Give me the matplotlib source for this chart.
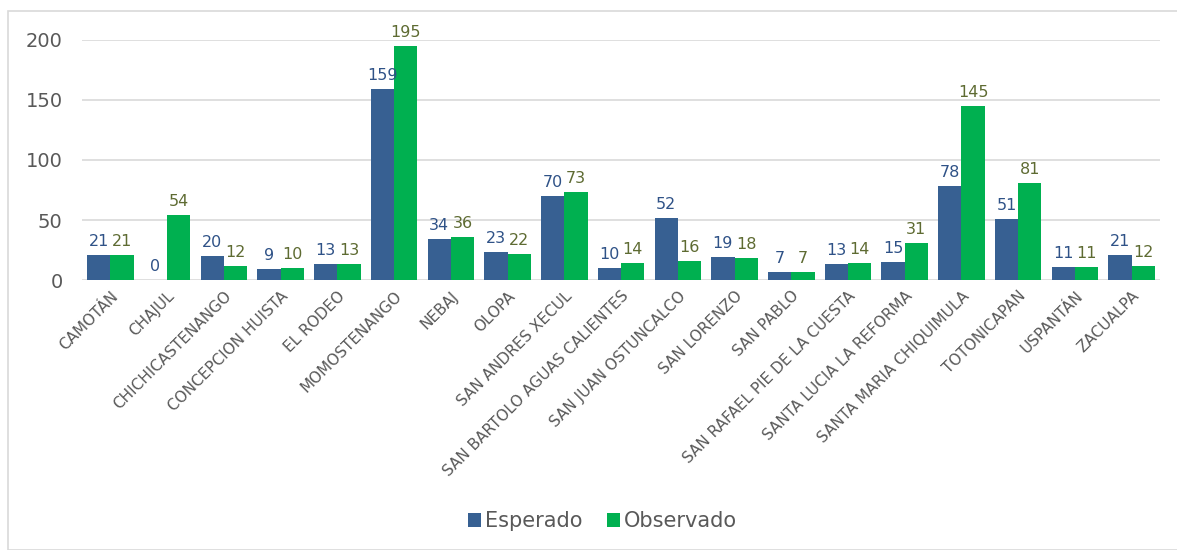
import matplotlib.pyplot as plt
import numpy as np
from matplotlib.patches import Rectangle

categorias = ['CAMOTÁN', 'CHAJUL', 'CHICHICASTENANGO', 'CONCEPCION HUISTA', 'EL RODEO',
              'MOMOSTENANGO', 'NEBAJ', 'OLOPA', 'SAN ANDRES XECUL', 'SAN BARTOLO AGUAS CALIENTES',
              'SAN JUAN OSTUNCALCO', 'SAN LORENZO', 'SAN PABLO', 'SAN RAFAEL PIE DE LA CUESTA',
              'SANTA LUCIA LA REFORMA', 'SANTA MARIA CHIQUIMULA', 'TOTONICAPAN', 'USPANTÁN', 'ZACUALPA']
esperado = [21, 0, 20, 9, 13, 159, 34, 23, 70, 10, 52, 19, 7, 13, 15, 78, 51, 11, 21]
observado = [21, 54, 12, 10, 13, 195, 36, 22, 73, 14, 16, 18, 7, 14, 31, 145, 81, 11, 12]

plt.rcParams['font.family'] = ['DejaVu Sans']

fig = plt.figure(figsize=(11.77, 5.5), dpi=100)
ax = fig.add_axes([0.0697, 0.4909, 0.9159, 0.4364])

x = np.arange(len(categorias))
w = 0.41
b1 = ax.bar(x - w/2, esperado, w, color='#376092', label='Esperado', zorder=3)
b2 = ax.bar(x + w/2, observado, w, color='#00B050', label='Observado', zorder=3)

for rect, v in zip(b1, esperado):
    ax.text(rect.get_x() + rect.get_width()/2, v + 5, str(v), ha='center', va='bottom',
            fontsize=11.5, color='#2F5287')
for rect, v in zip(b2, observado):
    ax.text(rect.get_x() + rect.get_width()/2, v + 5, str(v), ha='center', va='bottom',
            fontsize=11.5, color='#5E6B32')

ax.set_xlim(-0.5, len(categorias) - 0.5)
ax.set_ylim(0, 200)
ax.set_yticks([0, 50, 100, 150, 200])
ax.tick_params(axis='y', labelsize=14, labelcolor='#595959', length=0, pad=14)
ax.set_xticks(x)
ax.set_xticklabels(categorias, rotation=45, ha='right', rotation_mode='anchor',
                   fontsize=11, color='#595959')
ax.tick_params(axis='x', length=0, pad=6)
ax.grid(axis='y', color='#D9D9D9', linewidth=1.2, zorder=0)
for s in ax.spines.values():
    s.set_visible(False)

fig.legend(handles=[b1, b2], loc='center', bbox_to_anchor=(0.512, 0.052), ncol=2,
           frameon=False, fontsize=15, labelcolor='#595959', handlelength=0.6,
           handleheight=0.6, handletextpad=0.2, columnspacing=1.2)

fig.patches.append(Rectangle((8/1177, 0), 1.2, 1 - 11/550, transform=fig.transFigure,
                             fill=False, edgecolor='#D9D9D9', linewidth=1.2))

fig.savefig('out.png', dpi=100)
